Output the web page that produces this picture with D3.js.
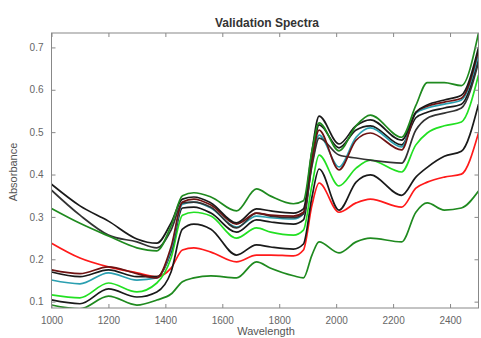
<!DOCTYPE html>
<html>
<head>
<meta charset="utf-8">
<script src="https://cdn.jsdelivr.net/npm/d3@7"></script>
<style>
  body { margin: 0; background: #fff; }
  svg { display: block; font-family: "Liberation Sans", Arial, sans-serif; }
</style>
</head>
<body>
<svg width="481" height="338"></svg>
<script>
var wavelengths = [1000, 1100, 1200, 1300, 1370, 1420, 1460, 1500, 1560, 1650, 1720, 1770, 1850,
                   1885, 1915, 1940, 2010, 2070, 2120, 2230, 2280, 2320, 2380, 2440, 2500];

var darkGreenTop = [0.320, 0.285, 0.255, 0.227, 0.220, 0.279, 0.350, 0.357, 0.347, 0.314, 0.366, 0.349, 0.331,
                    0.338, 0.456, 0.522, 0.456, 0.515, 0.540, 0.488, 0.563, 0.617, 0.617, 0.610, 0.734];
var blackA = [0.377, 0.326, 0.290, 0.248, 0.238, 0.286, 0.342, 0.347, 0.333, 0.286, 0.319, 0.314, 0.309,
              0.319, 0.456, 0.538, 0.472, 0.515, 0.529, 0.481, 0.547, 0.564, 0.576, 0.587, 0.700];
var blackB = [0.363, 0.304, 0.257, 0.241, 0.227, 0.269, 0.333, 0.335, 0.323, 0.274, 0.309, 0.302, 0.298,
              0.307, 0.420, 0.486, 0.446, 0.439, 0.434, 0.427, 0.505, 0.533, 0.545, 0.557, 0.665];
var darkRed = [0.175, 0.166, 0.182, 0.166, 0.156, 0.229, 0.335, 0.342, 0.328, 0.283, 0.309, 0.304, 0.302,
               0.311, 0.434, 0.505, 0.411, 0.481, 0.498, 0.458, 0.547, 0.561, 0.571, 0.580, 0.693];
var cyan = [0.151, 0.142, 0.168, 0.151, 0.156, 0.222, 0.330, 0.335, 0.321, 0.276, 0.302, 0.298, 0.295,
            0.307, 0.425, 0.493, 0.418, 0.488, 0.510, 0.465, 0.545, 0.557, 0.566, 0.576, 0.682];
var blackC = [0.170, 0.159, 0.175, 0.159, 0.159, 0.217, 0.321, 0.323, 0.309, 0.264, 0.293, 0.288, 0.283,
              0.293, 0.430, 0.517, 0.463, 0.505, 0.515, 0.470, 0.534, 0.547, 0.557, 0.566, 0.675];
var brightGreen = [0.116, 0.109, 0.144, 0.123, 0.144, 0.203, 0.304, 0.311, 0.302, 0.250, 0.274, 0.264, 0.257,
                   0.269, 0.375, 0.446, 0.373, 0.415, 0.434, 0.406, 0.470, 0.498, 0.515, 0.524, 0.635];
var blackD = [0.104, 0.095, 0.130, 0.111, 0.123, 0.170, 0.271, 0.283, 0.271, 0.210, 0.234, 0.229, 0.224,
              0.236, 0.347, 0.413, 0.316, 0.382, 0.399, 0.351, 0.394, 0.417, 0.443, 0.455, 0.566];
var red = [0.238, 0.203, 0.182, 0.168, 0.159, 0.179, 0.222, 0.227, 0.217, 0.194, 0.210, 0.210, 0.208,
           0.222, 0.328, 0.380, 0.311, 0.333, 0.342, 0.323, 0.368, 0.382, 0.394, 0.401, 0.498];
var darkGreenBottom = [0.092, 0.083, 0.113, 0.092, 0.104, 0.118, 0.147, 0.156, 0.161, 0.156, 0.194, 0.179, 0.161,
                       0.156, 0.210, 0.241, 0.215, 0.241, 0.250, 0.241, 0.311, 0.333, 0.316, 0.321, 0.361];

var xTicks = [1000, 1200, 1400, 1600, 1800, 2000, 2200, 2400];
var yTicks = [0.1, 0.2, 0.3, 0.4, 0.5, 0.6, 0.7];

var spectra = [
  { name: "darkGreenBottom", values: darkGreenBottom, color: "#1f8a1f" },
  { name: "red", values: red, color: "#ff1a1a" },
  { name: "blackD", values: blackD, color: "#1a1a1a" },
  { name: "brightGreen", values: brightGreen, color: "#22e022" },
  { name: "blackC", values: blackC, color: "#1a1a1a" },
  { name: "cyan", values: cyan, color: "#2a9fb0" },
  { name: "blackB", values: blackB, color: "#333333" },
  { name: "darkRed", values: darkRed, color: "#6e1212" },
  { name: "blackA", values: blackA, color: "#1a1a1a" },
  { name: "darkGreenTop", values: darkGreenTop, color: "#1f8a1f" }
];

var svg = d3.select("svg");
var plotLeft = 51.5, plotRight = 478.5, plotTop = 33, plotBottom = 308;

var x = d3.scaleLinear().domain([1000, 2500]).range([plotLeft, plotRight]);
var y = d3.scaleLinear().domain([0.085, 0.734]).range([plotBottom, plotTop]);

svg.append("defs").append("clipPath").attr("id", "plotclip")
  .append("rect").attr("x", plotLeft).attr("y", plotTop)
  .attr("width", plotRight - plotLeft).attr("height", plotBottom - plotTop);

var line = d3.line()
  .x(function(d) { return x(d[0]); })
  .y(function(d) { return y(d[1]); })
  .curve(d3.curveMonotoneX);

svg.append("g").attr("clip-path", "url(#plotclip)")
  .selectAll("path")
  .data(spectra)
  .enter().append("path")
  .attr("d", function(s) { return line(wavelengths.map(function(w, i) { return [w, s.values[i]]; })); })
  .attr("fill", "none")
  .attr("stroke", function(s) { return s.color; })
  .attr("stroke-width", 1.7)
  .attr("stroke-linejoin", "round");

// matlab style box, ticks pointing inwards on all four sides
var axisColor = "#888";
function styleAxis(g) {
  g.select(".domain").remove();
  g.selectAll(".tick line").attr("stroke", axisColor);
  g.selectAll(".tick text").attr("fill", "#666").attr("font-size", "10px");
}

svg.append("g").attr("transform", "translate(0," + plotBottom + ")")
  .call(d3.axisBottom(x).tickValues(xTicks).tickSize(-4).tickPadding(9).tickFormat(d3.format("d")))
  .call(styleAxis);
svg.append("g").attr("transform", "translate(0," + plotTop + ")")
  .call(d3.axisTop(x).tickValues(xTicks).tickSize(-4).tickFormat(""))
  .call(styleAxis);
svg.append("g").attr("transform", "translate(" + plotLeft + ",0)")
  .call(d3.axisLeft(y).tickValues(yTicks).tickSize(-4).tickPadding(8).tickFormat(d3.format(".1f")))
  .call(styleAxis);
svg.append("g").attr("transform", "translate(" + plotRight + ",0)")
  .call(d3.axisRight(y).tickValues(yTicks).tickSize(-4).tickFormat(""))
  .call(styleAxis);

svg.append("rect")
  .attr("x", plotLeft).attr("y", plotTop)
  .attr("width", plotRight - plotLeft).attr("height", plotBottom - plotTop)
  .attr("fill", "none").attr("stroke", axisColor).attr("stroke-width", 1);

svg.append("text")
  .attr("x", 267).attr("y", 27)
  .attr("text-anchor", "middle")
  .attr("font-size", "12px").attr("font-weight", "bold").attr("fill", "#333")
  .text("Validation Spectra");

svg.append("text")
  .attr("x", 266).attr("y", 335)
  .attr("text-anchor", "middle")
  .attr("font-size", "11px").attr("fill", "#555")
  .text("Wavelength");

svg.append("text")
  .attr("transform", "translate(17,172) rotate(-90)")
  .attr("text-anchor", "middle")
  .attr("font-size", "11px").attr("fill", "#555")
  .text("Absorbance");
</script>
</body>
</html>
